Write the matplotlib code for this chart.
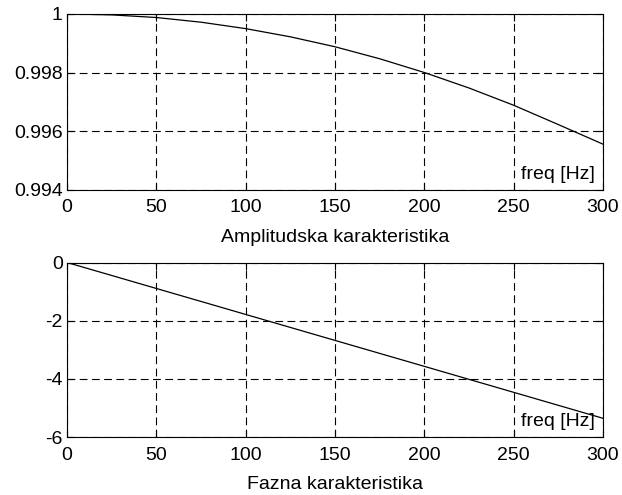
import matplotlib
matplotlib.use("Agg")
import matplotlib.pyplot as plt

plt.rcParams['font.family'] = ['Liberation Sans', 'DejaVu Sans']

freq = [0, 25, 50, 75, 100, 125, 150, 175, 200, 225, 250, 275, 300]
amplitude = [1.0, 0.99997, 0.99988, 0.99972, 0.99950, 0.99922, 0.99888,
             0.99847, 0.99800, 0.99747, 0.99688, 0.99622, 0.99555]
phase = [0, -0.446, -0.893, -1.339, -1.786, -2.232, -2.679, -3.125,
         -3.571, -4.018, -4.464, -4.911, -5.357]

xticks = [0, 50, 100, 150, 200, 250, 300]
amp_ticks = [0.994, 0.996, 0.998, 1.0]
amp_labels = ['0.994', '0.996', '0.998', '1']
ph_ticks = [-6, -4, -2, 0]
ph_labels = ['-6', '-4', '-2', '0']

W, H = 622, 495
fig = plt.figure(figsize=(W / 100, H / 100), dpi=100)

def make_ax(top_px, bottom_px):
    left, right = 67, 603
    return fig.add_axes([left / W, 1 - bottom_px / H, (right - left) / W, (bottom_px - top_px) / H])

ax1 = make_ax(14, 189.5)
ax2 = make_ax(262.5, 437)

FS = 14

def style(ax, yticks, ylabels, ylim, xlabel, lpad):
    ax.set_xlim(0, 300)
    ax.set_ylim(*ylim)
    ax.set_xticks(xticks)
    ax.set_xticklabels([str(t) for t in xticks])
    ax.set_yticks(yticks)
    ax.set_yticklabels(ylabels)
    ax.tick_params(direction='in', length=5, labelsize=FS, top=True, right=True, width=0.8)
    ax.tick_params(axis='x', pad=7)
    ax.tick_params(axis='y', pad=3)
    ax.grid(True, color='black', linestyle=(0, (7, 4)), linewidth=0.8)
    for s in ax.spines.values():
        s.set_linewidth(0.8)
    ax.set_xlabel(xlabel, fontsize=FS, labelpad=lpad)
    ax.text(0.985, 0.062, 'freq [Hz]', transform=ax.transAxes, ha='right', va='baseline',
            fontsize=FS)

ax1.plot(freq, amplitude, color='black', linewidth=0.9)
style(ax1, amp_ticks, amp_labels, (0.994, 1.0), 'Amplitudska karakteristika', 9.5)
ax2.plot(freq, phase, color='black', linewidth=0.9)
style(ax2, ph_ticks, ph_labels, (-6, 0), 'Fazna karakteristika', 8.5)

fig.savefig('out.png', dpi=100)
